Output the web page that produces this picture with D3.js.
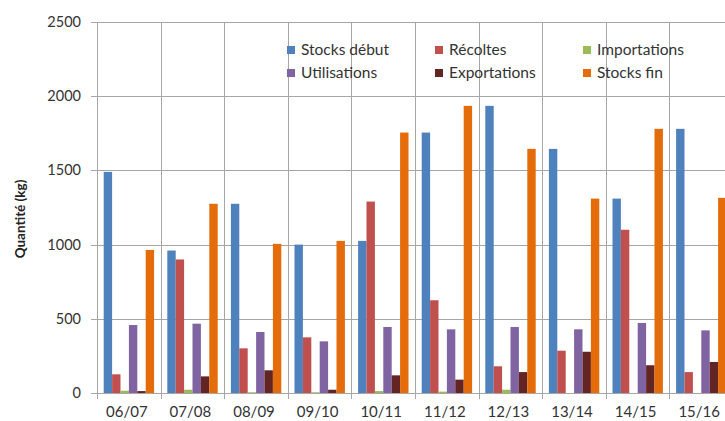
<!DOCTYPE html>
<html>
<head>
<meta charset="utf-8">
<script src="https://cdn.jsdelivr.net/npm/d3@7"></script>
<style>
  html, body { margin: 0; padding: 0; background: #fff; overflow: hidden; }
  svg { display: block; font-family: Lato, "Open Sans", sans-serif; }
</style>
</head>
<body>
<svg id="chart" width="725" height="421"></svg>
<script>
const categories = ["06/07","07/08","08/09","09/10","10/11","11/12","12/13","13/14","14/15","15/16"];
const seriesNames = ["Stocks début","Récoltes","Importations","Utilisations","Exportations","Stocks fin"];
const stocksDebut  = [1490, 960, 1275, 1000, 1025, 1755, 1935, 1645, 1310, 1780];
const recoltes     = [126, 900, 301, 375, 1290, 625, 180, 285, 1100, 141];
const importations = [15, 22, 5, 5, 13, 9, 22, 0, 0, 0];
const utilisations = [458, 467, 411, 348, 445, 429, 445, 429, 472, 422];
const exportations = [13, 112, 153, 22, 119, 90, 141, 278, 187, 209];
const stocksFin    = [964, 1275, 1005, 1025, 1755, 1935, 1645, 1310, 1780, 1315];
const yTicks = [0, 500, 1000, 1500, 2000, 2500];
const colors = ["#4F81BD","#C0504D","#9BBB59","#8064A2","#632523","#E46C0A"];
const seriesValues = [stocksDebut, recoltes, importations, utilisations, exportations, stocksFin];

const svg = d3.select("#chart");
const mLeft = 97, mTop = 22, mBottom = 393, mRight = 733;

const x = d3.scaleBand().domain(categories).range([mLeft, mRight]).paddingInner(0).paddingOuter(0);
const xs = d3.scaleBand().domain(seriesNames).range([6.7, x.bandwidth() - 6.5]).padding(0);
const y = d3.scaleLinear().domain([0, 2500]).range([mBottom, mTop]);

const grid = "#a6a6a6";
// horizontal gridlines
svg.append("g").selectAll("line").data(yTicks).join("line")
  .attr("x1", mLeft - 6).attr("x2", 725)
  .attr("y1", d => Math.round(y(d)) + 0.5).attr("y2", d => Math.round(y(d)) + 0.5)
  .attr("stroke", grid).attr("stroke-width", 1);
// vertical gridlines at category boundaries
const bounds = categories.map(c => x(c));
svg.append("g").selectAll("line").data(bounds).join("line")
  .attr("x1", d => Math.round(d) + 0.5).attr("x2", d => Math.round(d) + 0.5)
  .attr("y1", mTop).attr("y2", mBottom + 6)
  .attr("stroke", grid).attr("stroke-width", 1);

// legend
const legendCols = [287, 435, 583];
const legendRows = [50, 73];
const lg = svg.append("g");
seriesNames.forEach((name, i) => {
  const cx = legendCols[i % 3], cy = legendRows[Math.floor(i / 3)];
  lg.append("rect").attr("x", cx).attr("y", cy - 4).attr("width", 8).attr("height", 8).attr("fill", colors[i]);
  lg.append("text").attr("x", cx + 14).attr("y", cy).attr("dy", "0.35em")
    .attr("font-size", 15.5).attr("fill", "#333").text(name);
});

// bars
const bars = svg.append("g");
seriesNames.forEach((name, si) => {
  bars.append("g").attr("fill", colors[si]).selectAll("rect")
    .data(categories.map((c, ci) => ({c, v: seriesValues[si][ci]})))
    .join("rect")
    .attr("x", d => x(d.c) + xs(name))
    .attr("width", xs.bandwidth())
    .attr("y", d => y(d.v))
    .attr("height", d => y(0) - y(d.v));
});

// y tick labels
svg.append("g").selectAll("text").data(yTicks).join("text")
  .attr("x", 81).attr("y", d => y(d)).attr("dy", "0.35em")
  .attr("text-anchor", "end").attr("font-size", 14.5).attr("fill", "#333")
  .text(d => d);

// x labels
svg.append("g").selectAll("text").data(categories).join("text")
  .attr("x", d => x(d) + x.bandwidth() / 2 - 2).attr("y", 412).attr("dy", "0.35em")
  .attr("text-anchor", "middle").attr("font-size", 15).attr("fill", "#333")
  .text(d => d);

// y title
svg.append("text")
  .attr("transform", "translate(20,219) rotate(-90)")
  .attr("text-anchor", "middle").attr("dy", "0.35em")
  .attr("font-size", 13.5).attr("font-weight", "bold").attr("fill", "#222")
  .text("Quantité (kg)");
</script>
</body>
</html>
